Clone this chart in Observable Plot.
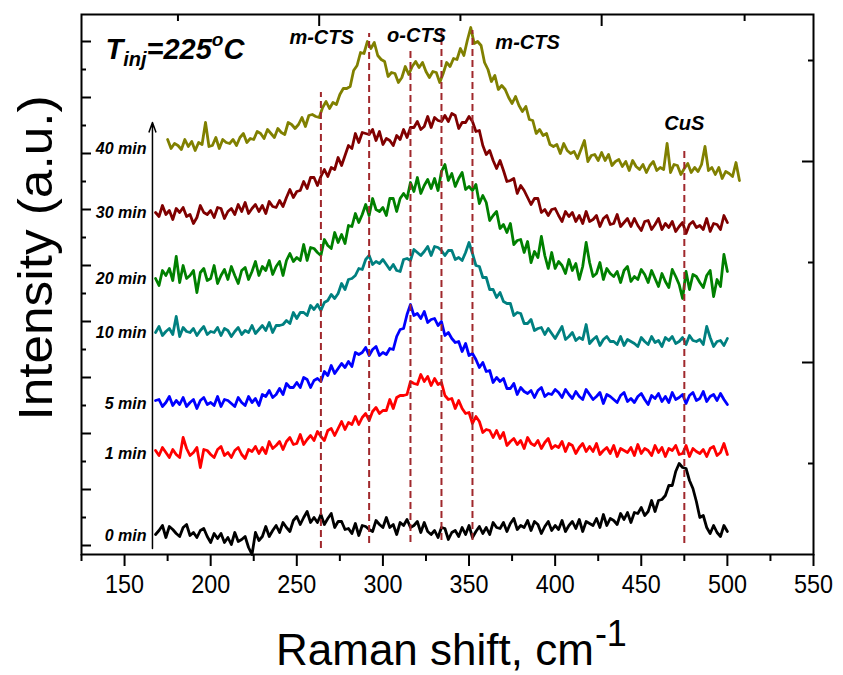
<!DOCTYPE html>
<html><head><meta charset="utf-8">
<script src="https://cdn.jsdelivr.net/npm/d3@7"></script>
<script src="https://cdn.jsdelivr.net/npm/@observablehq/plot@0.6"></script>
<style>body{margin:0;background:#fff}</style>
</head><body><div id="chart"></div>
<script>
// Series (stacked Raman spectra, arbitrary intensity units)
const seriesNames = ["40 min","30 min","20 min","10 min","5 min","1 min","0 min"];
const seriesColors = ["#808000","#800000","#008000","#008080","#0000ff","#ff0000","#000000"];
const seriesStart = [175,168,168,168,168,168,168]; // cm-1, first sample
const stepCm = 2; // sampling step, cm-1

const s40 = [415,406,411,409,405,415,408,413,404,412,410,432,408,409,417,406,415,412,411,415,
 409,417,421,412,416,415,423,421,416,425,421,417,426,422,420,432,430,426,430,437,
 428,439,440,438,437,447,453,446,452,450,460,466,466,468,484,489,502,501,513,506,
 512,499,495,493,478,482,481,472,477,488,480,488,493,487,492,483,477,483,482,472,
 481,492,488,496,495,506,499,514,527,511,513,509,492,485,473,479,465,469,465,457,
 451,458,449,443,448,435,434,421,425,419,421,410,408,410,401,411,404,401,403,396,
 405,414,393,399,400,394,402,394,400,389,393,395,388,393,384,394,388,385,390,382,
 389,393,384,387,385,411,382,390,389,380,386,391,382,387,383,390,408,384,387,380,
 387,376,383,381,378,392,374];
const s30 = [342,338,349,340,344,335,346,342,347,338,340,331,337,349,342,340,344,337,347,346,
 336,343,346,340,350,343,352,341,346,350,343,349,341,353,348,347,354,348,357,365,
 357,363,364,373,366,377,377,369,378,385,378,387,385,397,389,399,409,406,421,412,
 422,421,420,425,414,423,410,416,414,409,419,415,425,417,427,427,433,425,428,438,
 427,437,434,433,439,433,441,439,426,432,432,438,433,423,424,409,400,404,394,386,
 394,384,373,374,376,361,369,364,357,350,356,356,342,345,339,345,346,339,333,343,
 338,342,333,339,331,343,333,335,339,328,336,339,330,331,340,328,332,336,328,336,
 329,324,333,334,325,330,336,325,331,327,333,323,328,332,321,330,333,327,329,325,
 336,323,331,330,325,339,332];
const s20 = [276,269,284,279,286,274,298,272,289,276,279,284,262,282,286,274,276,289,271,279,
 285,275,288,279,271,284,287,275,283,293,279,288,284,294,280,288,293,279,294,301,
 293,297,294,310,294,307,306,302,299,315,309,306,322,312,320,311,329,328,341,332,
 340,350,339,356,345,343,347,339,356,356,343,356,361,356,372,363,377,361,369,375,
 366,376,364,383,390,374,381,368,376,382,365,368,364,370,351,359,352,334,339,343,
 326,330,322,331,310,314,315,302,313,292,303,297,318,299,286,302,286,293,289,281,
 295,284,291,275,288,312,292,278,281,292,275,286,281,278,283,272,284,288,273,278,
 275,285,280,272,284,276,268,281,273,267,285,278,270,256,283,265,280,278,272,267,
 279,284,258,275,268,300,283];
const s10 = [222,228,219,223,226,220,238,218,227,223,222,226,219,224,228,220,223,222,227,219,
 226,224,218,223,227,220,224,222,229,221,225,229,224,232,222,229,229,230,234,231,
 242,236,242,242,239,249,245,250,244,252,254,260,256,261,271,265,275,276,279,286,
 285,295,299,290,293,291,295,290,285,290,284,283,295,296,294,305,302,299,303,308,
 299,308,307,304,299,304,304,295,297,294,302,312,301,289,288,277,277,265,265,257,
 262,253,251,251,239,242,241,231,231,235,224,226,227,220,226,221,216,222,228,215,
 218,222,214,217,215,230,211,215,218,209,215,218,213,213,210,218,209,215,213,211,
 208,217,213,210,218,212,214,208,217,214,218,211,213,217,210,219,214,213,215,210,
 228,217,208,213,214,209,216];
const s5 = [154,155,148,152,158,149,154,150,157,148,152,155,146,154,157,150,152,149,158,148,
 155,154,151,148,157,152,149,158,152,156,149,160,158,164,157,160,166,160,171,167,
 167,172,167,177,175,167,174,176,173,183,179,189,181,186,191,187,193,188,202,200,
 202,207,199,205,208,199,202,200,206,205,218,225,226,240,250,239,241,236,243,232,
 235,236,229,233,219,222,216,212,213,203,211,199,201,195,187,192,183,184,172,177,
 173,176,166,166,171,160,167,163,161,164,157,164,167,158,161,160,165,162,157,165,
 160,156,163,158,155,165,160,155,158,162,151,160,158,155,152,159,162,153,156,152,
 158,161,155,150,159,156,161,153,158,152,162,155,157,160,151,159,162,154,156,163,
 153,158,160,154,161,155,150];
const s1 = [104,99,107,102,97,105,100,97,117,106,99,102,107,87,105,104,100,97,105,108,
 99,102,97,104,107,100,96,105,103,108,101,107,101,113,106,109,113,105,113,117,
 110,111,120,110,115,119,114,123,118,114,124,126,119,126,133,125,132,130,138,130,
 137,141,134,143,147,141,144,144,155,146,157,159,159,160,173,171,170,180,173,178,
 169,176,170,172,159,155,156,146,154,146,141,142,131,138,133,122,125,124,117,124,
 116,122,109,113,116,110,114,106,117,111,109,114,106,112,116,106,109,107,113,103,
 111,109,101,107,111,103,108,103,111,100,104,107,101,109,98,106,104,102,107,99,
 110,101,106,104,99,109,102,107,98,106,104,109,100,101,109,98,106,103,101,105,
 98,106,108,99,102,111,100];
const s0 = [20,24,29,17,28,25,21,18,27,30,19,22,17,24,26,18,12,21,16,21,
 12,17,10,22,13,15,18,7,0,22,14,18,28,18,24,29,22,32,27,23,
 34,38,30,37,43,32,37,32,40,30,36,41,27,33,33,25,26,21,31,19,
 29,28,25,23,34,30,27,37,27,30,20,32,29,35,27,29,33,22,32,23,
 20,24,17,27,26,15,22,24,18,27,20,29,17,23,28,21,27,20,32,27,
 26,32,23,31,36,25,29,27,34,24,33,30,21,28,33,24,29,25,34,23,
 29,33,26,35,23,33,31,29,36,27,40,29,36,34,30,41,35,42,32,42,
 41,47,39,43,54,43,54,55,59,69,69,83,91,87,86,74,66,53,37,39,
 27,21,29,22,18,29,23];
const seriesValues = [s40, s30, s20, s10, s5, s1, s0];

// Series labels
const labelX = 162.7;
const labelY = [406, 342, 276, 222, 151, 101, 19];

// Peak annotations
const peakText = ["m-CTS", "o-CTS", "m-CTS", "CuS"];
const peakX = [264.4, 319.5, 384, 475];
const peakY = [517, 519, 512, 431];

// Dashed reference lines
const dashX = [264, 292, 316, 334, 352, 475];
const dashTop = [462, 521, 507, 524, 524, 407];
const dashBottom = [6, 11, 12, 14, 14, 11];

// Ticks
const xMajor = [150, 200, 250, 300, 350, 400, 450, 500, 550];
const xMinor = [125, 175, 225, 275, 325, 375, 425, 475, 525];
const topMajor = [263, 427];
const topMinor = [181, 345, 510];
const leftMajor = [9, 65, 121, 177, 233, 289, 345, 401, 457, 513];
const leftMinor = [37, 93, 149, 205, 261, 317, 373, 429, 485];
const rightMajor = [192, 393];
const rightMinor = [91, 292, 494];

// Time arrow
const arrowX = 166.2, arrowFrom = 6, arrowTo = 432;

// Title parts
const tinjParts = ["T", "inj", "=225", "o", "C"];
const tinjX = 138.9, tinjY = 496;
const xTitle = ["Raman shift, cm", "-1"];
const yTitle = "Intensity (a.u.)";

const rows = seriesNames.flatMap((name, j) =>
  seriesValues[j].map((v, i) => ({name, x: seriesStart[j] + i * stepCm, y: v})));
const labelRows = seriesNames.map((name, i) => ({name, x: labelX, y: labelY[i]}));
const peakRows = peakText.map((t, i) => ({t, x: peakX[i], y: peakY[i]}));
const dashRows = dashX.map((x, i) => ({x, y1: dashBottom[i], y2: dashTop[i]}));

const blank = () => "";
const chart = Plot.plot({
  width: 843, height: 675,
  marginLeft: 81, marginRight: 30, marginTop: 14, marginBottom: 121,
  x: {domain: [125, 550]},
  y: {domain: [0, 540]},
  color: {domain: seriesNames, range: seriesColors},
  style: {fontFamily: "'Liberation Sans', Arial, sans-serif", background: "#fff", color: "#000"},
  marks: [
    Plot.line(rows, {x: "x", y: "y", z: "name", stroke: "name", strokeWidth: 2.8, strokeLinejoin: "round"}),
    Plot.ruleX(dashRows, {x: "x", y1: "y1", y2: "y2", stroke: "#a0282c", strokeWidth: 2, strokeDasharray: "7,4"}),
    Plot.arrow([{x: arrowX, y1: arrowFrom, y2: arrowTo}], {x1: "x", x2: "x", y1: "y1", y2: "y2", stroke: "#000", strokeWidth: 1.5, headLength: 10, headAngle: 40}),
    Plot.text(labelRows, {x: "x", y: "y", text: "name", textAnchor: "end", fontSize: 16, fontWeight: "bold", fontStyle: "italic", fill: "#000"}),
    Plot.text(peakRows, {x: "x", y: "y", text: "t", fontSize: 20, fontWeight: "bold", fontStyle: "italic", fill: "#000"}),
    Plot.text([{x: tinjX, y: tinjY, t: tinjParts.join("")}], {x: "x", y: "y", text: "t", textAnchor: "start", lineAnchor: "bottom", fontSize: 29, fontWeight: "bold", fontStyle: "italic", fill: "#000"}),
    Plot.frame({stroke: "#000", strokeWidth: 2}),
    Plot.axisX(xMajor, {anchor: "bottom", tickSize: 12, tickPadding: 8, strokeWidth: 2, fontSize: 26, label: null, tickFormat: d => String(d)}),
    Plot.axisX(xMinor, {anchor: "bottom", tickSize: 7, strokeWidth: 2, label: null, tickFormat: blank}),
    Plot.axisX(topMajor, {anchor: "top", tickSize: -11, strokeWidth: 2, label: null, tickFormat: blank}),
    Plot.axisX(topMinor, {anchor: "top", tickSize: -6, strokeWidth: 2, label: null, tickFormat: blank}),
    Plot.axisY(leftMajor, {anchor: "left", tickSize: -10, strokeWidth: 2, label: null, tickFormat: blank}),
    Plot.axisY(leftMinor, {anchor: "left", tickSize: -5, strokeWidth: 2, label: null, tickFormat: blank}),
    Plot.axisY(rightMajor, {anchor: "right", tickSize: -12, strokeWidth: 2, label: null, tickFormat: blank}),
    Plot.axisY(rightMinor, {anchor: "right", tickSize: -6, strokeWidth: 2, label: null, tickFormat: blank})
  ]
});
document.getElementById("chart").appendChild(chart);

const svg = d3.select(chart);
// condensed tick labels
svg.selectAll("text").filter(function() { return xMajor.map(String).includes(this.textContent); })
  .attr("textLength", 39).attr("lengthAdjust", "spacingAndGlyphs");
// T_inj = 225 °C with sub/superscripts
svg.selectAll("text").filter(function() { return this.textContent === tinjParts.join(""); }).each(function() {
  const t = d3.select(this);
  t.text(null);
  t.append("tspan").text(tinjParts[0]);
  t.append("tspan").attr("font-size", 20).attr("dy", 7).text(tinjParts[1]);
  t.append("tspan").attr("font-size", 29).attr("dy", -7).text(tinjParts[2]);
  t.append("tspan").attr("font-size", 19).attr("dy", -13).text(tinjParts[3]);
  t.append("tspan").attr("font-size", 29).attr("dy", 13).text(tinjParts[4]);
});
// Axis titles
const xt = svg.append("g").attr("fill", "#000").attr("font-family", "'Liberation Sans', Arial, sans-serif");
const cap = xt.append("text").attr("x", 276).attr("y", 665).attr("font-size", 44).attr("text-anchor", "start");
cap.append("tspan").text(xTitle[0]);
cap.append("tspan").attr("font-size", 36).attr("dy", -19).attr("dx", 1).text(xTitle[1]);
xt.append("text").attr("transform", "translate(52,258) rotate(-90)").attr("text-anchor", "middle")
  .attr("font-size", 48).attr("textLength", 325).attr("lengthAdjust", "spacingAndGlyphs").text(yTitle);
</script>
</body></html>
